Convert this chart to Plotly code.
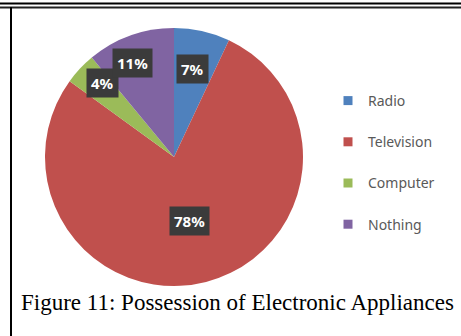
import math
import plotly.graph_objects as go

# ---- data ----
categories = ["Radio", "Television", "Computer", "Nothing"]
shares = [7, 78, 4, 11]
label_texts = ["7%", "78%", "4%", "11%"]

# ---- style ----
colors = ["#4F81BD", "#C0504D", "#9BBB59", "#8064A2"]
label_radius = [0.70, 0.51, 0.80, 0.80]   # fraction of pie radius
label_nudge_deg = [-1, 1, 3, -4]          # angular nudge for label placement
W, H = 461, 336
cx, cy, R = 174, 157, 129                 # pie centre/radius in px

fig = go.Figure()
fig.add_trace(go.Pie(
    labels=categories, values=shares, sort=False, direction="clockwise",
    rotation=0, marker=dict(colors=colors, line=dict(width=0)),
    textinfo="none", hoverinfo="label+percent", showlegend=False,
    domain=dict(x=[(cx - R) / W, (cx + R) / W], y=[1 - (cy + R) / H, 1 - (cy - R) / H]),
))

# legend entries via invisible scatter traces
for cat, col in zip(categories, colors):
    fig.add_trace(go.Scatter(
        x=[None], y=[None], mode="markers", name=cat, legendgroup=cat,
        marker=dict(symbol="square", size=9, color=col), showlegend=True,
    ))

# data labels positioned from cumulative shares
total = sum(shares)
cum = 0
for i, (v, t) in enumerate(zip(shares, label_texts)):
    mid = (cum + v / 2) / total * 360 + label_nudge_deg[i]
    cum += v
    d = label_radius[i] * R
    px = cx + d * math.sin(math.radians(mid))
    py = cy - d * math.cos(math.radians(mid))
    fig.add_annotation(
        x=px / W, y=1 - py / H, xref="paper", yref="paper", text=t,
        xanchor="center", yanchor="middle",
        showarrow=False, bgcolor="#3b3b3b", borderpad=4,
        font=dict(family="Noto Sans", size=15, color="white", weight="bold"),
    )

# caption
fig.add_annotation(
    x=19 / W, y=1 - 302 / H, xref="paper", yref="paper",
    xanchor="left", yanchor="middle",
    text="Figure 11: Possession of Electronic Appliances", showarrow=False,
    font=dict(family="Liberation Serif", size=23, color="black"),
)

# frame lines
fig.add_shape(type="line", xref="paper", yref="paper", x0=0, x1=1,
              y0=1 - 3.5 / H, y1=1 - 3.5 / H, line=dict(color="black", width=2))
fig.add_shape(type="line", xref="paper", yref="paper", x0=0, x1=1,
              y0=1 - 7.5 / H, y1=1 - 7.5 / H, line=dict(color="#222222", width=2))
fig.add_shape(type="line", xref="paper", yref="paper", x0=11 / W, x1=11 / W,
              y0=0, y1=1 - 7 / H, line=dict(color="black", width=2))

fig.update_layout(
    width=W, height=H, margin=dict(l=0, r=0, t=0, b=0),
    paper_bgcolor="white", plot_bgcolor="white",
    xaxis=dict(visible=False), yaxis=dict(visible=False),
    legend=dict(x=328 / W, y=1 - 85 / H, xanchor="left", yanchor="top",
                tracegroupgap=20, bgcolor="rgba(0,0,0,0)",
                font=dict(family="Noto Sans", size=14, color="#595959")),
)

fig.write_html("out.html")
